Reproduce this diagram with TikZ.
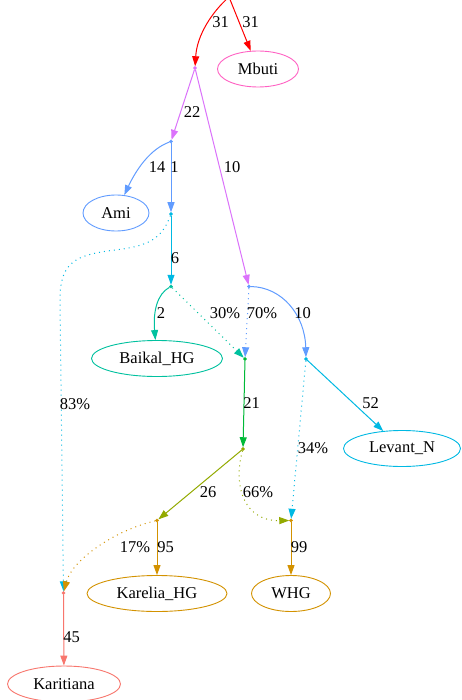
\documentclass[tikz,border=0pt]{standalone}
\usepackage{fontspec}
\setmainfont{Liberation Serif}
\usetikzlibrary{shapes.geometric,arrows.meta}
\definecolor{cSalmon}{HTML}{F8766D}
\definecolor{cOrange}{HTML}{D39200}
\definecolor{cOlive}{HTML}{93AA00}
\definecolor{cGreen}{HTML}{00BA38}
\definecolor{cTeal}{HTML}{00C19F}
\definecolor{cCyan}{HTML}{00B9E3}
\definecolor{cBlue}{HTML}{619CFF}
\definecolor{cPurple}{HTML}{DB72FB}
\definecolor{cPink}{HTML}{FF61C3}
\definecolor{cRed}{HTML}{FF0000}
\tikzset{
  pt/.style={circle,inner sep=0pt,minimum size=3.2pt,fill=#1,draw=#1,line width=0.3pt},
  leaf/.style={ellipse,draw=#1,line width=0.9pt,inner sep=0pt,minimum height=36pt,font=\fontsize{16.5}{18}\selectfont},
  lbl/.style={inner sep=0pt,font=\fontsize{16.5}{18}\selectfont},
  edg/.style={draw=#1,line width=1pt,-{Triangle[length=10pt,width=7pt]},color=#1},
  dotedg/.style={edg=#1,dash pattern=on 1pt off 4pt}
}
\begin{document}
\begin{tikzpicture}[x=1pt,y=-1pt]
\useasboundingbox (0,0) rectangle (461,700);
\fill[white] (0,0) rectangle (461,700);
\clip (0,0) rectangle (461,700);
% points
\coordinate (R) at (229,-3);
\node[pt=cPurple] (p1) at (195,68) {};
\node[pt=cBlue] (p2) at (171,141.5) {};
\node[pt=cCyan] (p3) at (171,214) {};
\node[pt=cTeal] (p4) at (171,286.5) {};
\node[pt=cBlue] (p5) at (249,286.5) {};
\node[pt=cGreen] (p6) at (245,359) {};
\node[pt=cCyan] (p7) at (306,359) {};
\node[pt=cOlive] (p8) at (243,449) {};
\node[pt=cOrange] (p9) at (157,520.5) {};
\node[pt=cOrange] (p10) at (291,520.5) {};
\node[pt=cSalmon] (p11) at (63.5,593) {};
% leaves
\node[leaf=cPink,minimum width=81pt] (Mbuti) at (258,69) {Mbuti};
\node[leaf=cBlue,minimum width=66pt] (Ami) at (116,213) {Ami};
\node[leaf=cTeal,minimum width=131pt] (Baikal) at (157,358.5) {Baikal\_HG};
\node[leaf=cCyan,minimum width=117pt] (Levant) at (402,448.5) {Levant\_N};
\node[leaf=cOrange,minimum width=140pt] (Karelia) at (157,593.5) {Karelia\_HG};
\node[leaf=cOrange,minimum width=79pt] (WHG) at (291,593.5) {WHG};
\node[leaf=cSalmon,minimum width=113pt] (Karitiana) at (64,684) {Karitiana};
% edges
\draw[edg=cRed] (R) .. controls (212,12) and (197,35) .. (p1);
\draw[edg=cRed] (R) -- (Mbuti);
\draw[edg=cPurple] (p1) -- (p2);
\draw[edg=cPurple] (p1) -- (p5);
\draw[edg=cBlue] (p2) .. controls (150,149) and (136,170) .. (Ami);
\draw[edg=cBlue] (p2) -- (p3);
\draw[edg=cCyan] (p3) -- (p4);
\draw[dotedg=cCyan] (p3) .. controls (162,238) and (150,246) .. (115,250)
   .. controls (75,255) and (60,262) .. (60,300) -- (p11);
\draw[edg=cTeal] (p4) .. controls (157,294) and (153,312) .. (Baikal);
\draw[dotedg=cTeal] (p4) -- (p6);
\draw[dotedg=cBlue] (p5) -- (p6);
\draw[edg=cBlue] (p5) .. controls (282,287) and (305,315) .. (p7);
\draw[edg=cGreen] (p6) -- (p8);
\draw[edg=cCyan] (p7) -- (Levant);
\draw[dotedg=cCyan] (p7) -- (p10);
\draw[edg=cOlive] (p8) -- (p9);
\draw[dotedg=cOlive] (p8) .. controls (234,480) and (240,521) .. (p10);
\draw[edg=cOrange] (p9) -- (Karelia);
\draw[dotedg=cOrange] (p9) .. controls (115,530) and (72,560) .. (p11);
\draw[edg=cOrange] (p10) -- (WHG);
\draw[edg=cSalmon] (p11) -- (Karitiana);
% labels
\node[lbl] (l1) at (220.5,22) {31};
\node[lbl] (l2) at (250.5,22) {31};
\node[lbl] (l3) at (192,112) {22};
\node[lbl] (l4) at (157,167) {14};
\node[lbl] (l5) at (174.5,167) {1};
\node[lbl] (l6) at (232,167) {10};
\node[lbl] (l7) at (175,258) {6};
\node[lbl] (l8) at (161,313) {2};
\node[lbl] (l9) at (225,313) {30\%};
\node[lbl] (l10) at (262,313) {70\%};
\node[lbl] (l11) at (302.5,313) {10};
\node[lbl] (l12) at (75,404) {83\%};
\node[lbl] (l13) at (251.7,403) {21};
\node[lbl] (l14) at (370.7,403) {52};
\node[lbl] (l15) at (313,448) {34\%};
\node[lbl] (l16) at (208,492) {26};
\node[lbl] (l17) at (258,492) {66\%};
\node[lbl] (l18) at (135,547) {17\%};
\node[lbl] (l19) at (165.7,547) {95};
\node[lbl] (l20) at (299,547) {99};
\node[lbl] (l21) at (71.7,637) {45};
\end{tikzpicture}
\end{document}
